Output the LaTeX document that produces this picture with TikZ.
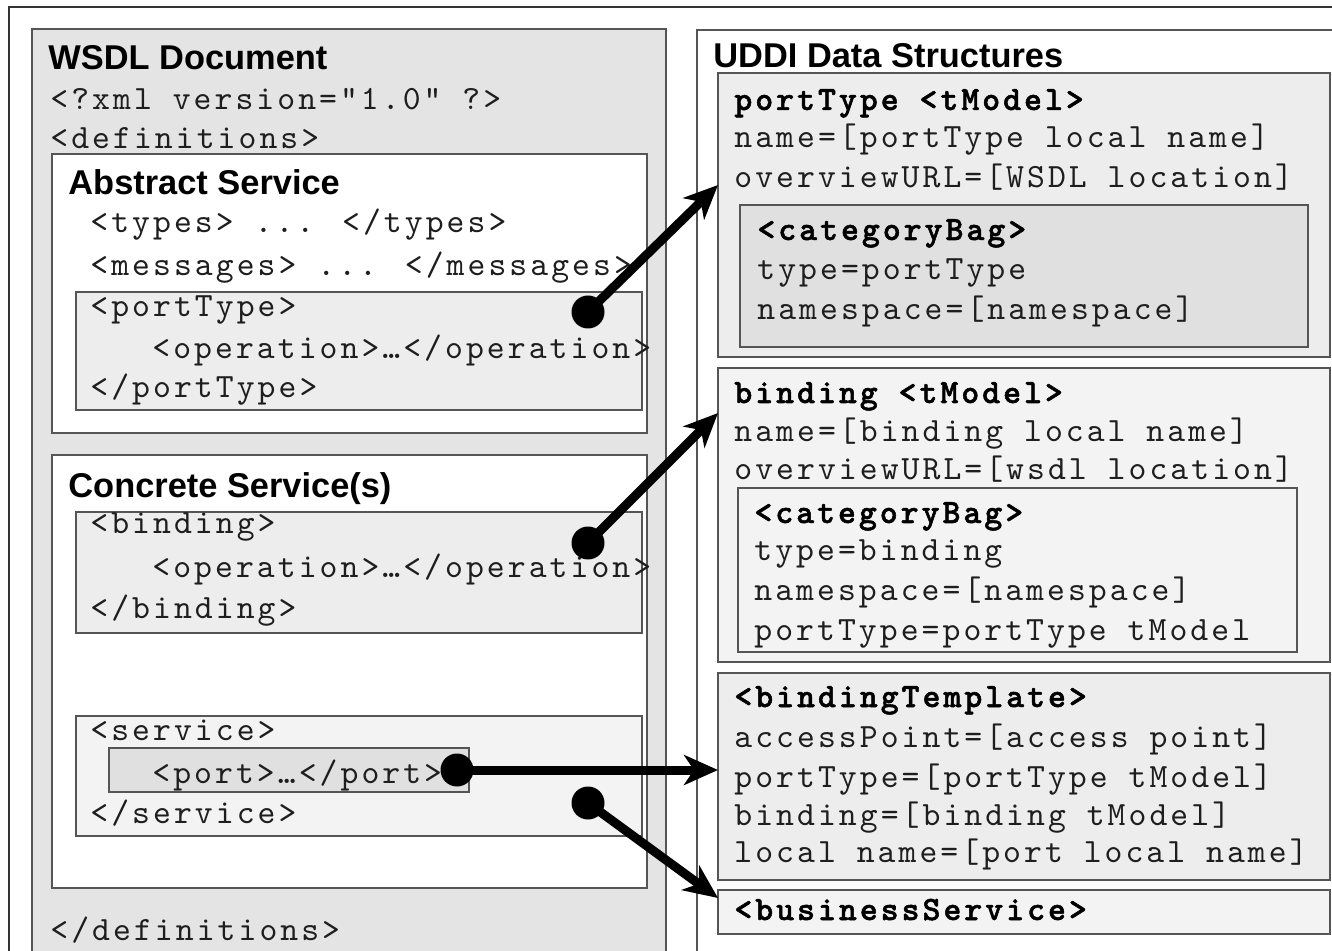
\documentclass[tikz,border=0pt]{standalone}
\usepackage{fontspec}
\setmainfont{Liberation Sans}
\newfontfamily\hsans{Liberation Sans}
\newfontfamily\mono{lmmono10-regular.otf}[LetterSpace=9,BoldFont=lmmonolt10-bold.otf,BoldFeatures={FakeBold=1.5}]
\usetikzlibrary{arrows.meta,fit}
\definecolor{panelgray}{HTML}{E4E4E4}
\definecolor{boxline}{HTML}{555555}
\definecolor{dotA}{HTML}{EDEDED}
\definecolor{dotB}{HTML}{E0E0E0}
\definecolor{dotC}{HTML}{F3F3F3}
\definecolor{inkc}{HTML}{1E1E1E}
\tikzset{
  box/.style={draw=boxline, line width=1pt, inner sep=0pt},
  txt/.style={anchor=base west, inner sep=0pt, text=inkc, font=\mono\fontsize{17pt}{17pt}\selectfont},
  btxt/.style={anchor=base west, inner sep=0pt, text=black, font=\mono\bfseries\fontsize{17pt}{17pt}\selectfont},
  head/.style={anchor=base west, inner sep=0pt, text=black, font=\hsans\bfseries\fontsize{17.2pt}{17pt}\selectfont},
  dot/.style={circle, fill=black, minimum size=16.5pt, inner sep=0pt},
  conn/.style={line width=4.5pt, -{Stealth[length=17pt,width=15pt,inset=5pt]}},
}
\begin{document}
\begin{tikzpicture}[x=0.5pt,y=-0.5pt]
\useasboundingbox (0,0) rectangle (1332,951);
\clip (0,0) rectangle (1332,951);
\fill[white] (0,0) rectangle (1332,951);
% outer frame
\draw[black!80, line width=1pt] (9,7) rectangle (1400,1000);
% panels
\node[box, fill=panelgray, fit={(32,29) (666,990)}] (wsdl) {};
\node[box, fill=white, fit={(697,30) (1400,990)}] (uddi) {};
% left boxes
\node[box, fill=white, fit={(52,154) (647,433)}] (abs) {};
\node[box, fill=dotA, fit={(76,292) (642,410)}] (pt) {};
\node[box, fill=white, fit={(52,455) (647,888)}] (conc) {};
\node[box, fill=dotA, fit={(76,512) (642,633)}] (bind) {};
\node[box, fill=dotC, fit={(76,716) (642,836)}] (serv) {};
\node[box, fill=dotB, fit={(109,748) (469,792)}] (port) {};
% right boxes
\node[box, fill=dotA, fit={(718,73) (1330,357)}] (ptm) {};
\node[box, fill=dotB, fit={(740,205) (1308,347)}] (cb1) {};
\node[box, fill=dotC, fit={(718,368) (1330,662)}] (btm) {};
\node[box, fill=dotC, fit={(738,488) (1297,652)}] (cb2) {};
\node[box, fill=dotA, fit={(718,673) (1330,880)}] (bt) {};
\node[box, fill=dotC, fit={(718,890) (1330,934)}] (bs) {};
% left texts
\node[head] (h1) at (48,70) {WSDL Document};
\node[txt] (l1) at (50,110) {<?xml version="1.0" ?>};
\node[txt] (l2) at (50,149) {<definitions>};
\node[head] (h2) at (68,195) {Abstract Service};
\node[txt] (l3) at (90,233) {<types> ... </types>};
\node[txt] (l4) at (90,276) {<messages> ... </messages>};
\node[txt] (l5) at (90,317) {<portType>};
\node[txt] (l6) at (152,359) {<operation>…</operation>};
\node[txt] (l7) at (90,398) {</portType>};
\node[head] (h3) at (68,497) {Concrete Service(s)};
\node[txt] (l8) at (90,533) {<binding>};
\node[txt] (l9) at (152,577) {<operation>…</operation>};
\node[txt] (l10) at (90,618) {</binding>};
\node[txt] (l11) at (90,740) {<service>};
\node[txt] (l12) at (152,783) {<port>…</port>};
\node[txt] (l13) at (90,823) {</service>};
\node[txt] (l14) at (50,940) {</definitions>};
% right texts
\node[head] (h4) at (713,68) {UDDI Data Structures};
\node[btxt] (r1) at (734,110) {portType <tModel>};
\node[txt] (r2) at (734,148) {name=[portType local name]};
\node[txt] (r3) at (734,188) {overviewURL=[WSDL location]};
\node[btxt] (r4) at (757,240) {<categoryBag>};
\node[txt] (r5) at (757,280) {type=portType};
\node[txt] (r6) at (757,320) {namespace=[namespace]};
\node[btxt] (r7) at (734,403) {binding <tModel>};
\node[txt] (r8) at (734,442) {name=[binding local name]};
\node[txt] (r9) at (734,480) {overviewURL=[wsdl location]};
\node[btxt] (r10) at (754,523) {<categoryBag>};
\node[txt] (r11) at (754,560) {type=binding};
\node[txt] (r12) at (754,600) {namespace=[namespace]};
\node[txt] (r13) at (754,640) {portType=portType tModel};
\node[btxt] (r14) at (734,707) {<bindingTemplate>};
\node[txt] (r15) at (734,747) {accessPoint=[access point]};
\node[txt] (r16) at (734,787) {portType=[portType tModel]};
\node[txt] (r17) at (734,825) {binding=[binding tModel]};
\node[txt] (r18) at (734,862) {local name=[port local name]};
\node[btxt] (r19) at (734,920) {<businessService>};
% dots and arrow ends
\node[dot] (d1) at (588,312) {};
\node[dot] (d2) at (588,543) {};
\node[dot] (d3) at (457,770) {};
\node[dot] (d4) at (588,803) {};
\coordinate (e1) at (718,185);
\coordinate (e2) at (718,413);
\coordinate (e3) at (718,770);
\coordinate (e4) at (718,898);
\draw[conn] (d1.center) -- (e1);
\draw[conn] (d2.center) -- (e2);
\draw[conn] (d3.center) -- (e3);
\draw[conn] (d4.center) -- (e4);
\end{tikzpicture}
\end{document}
